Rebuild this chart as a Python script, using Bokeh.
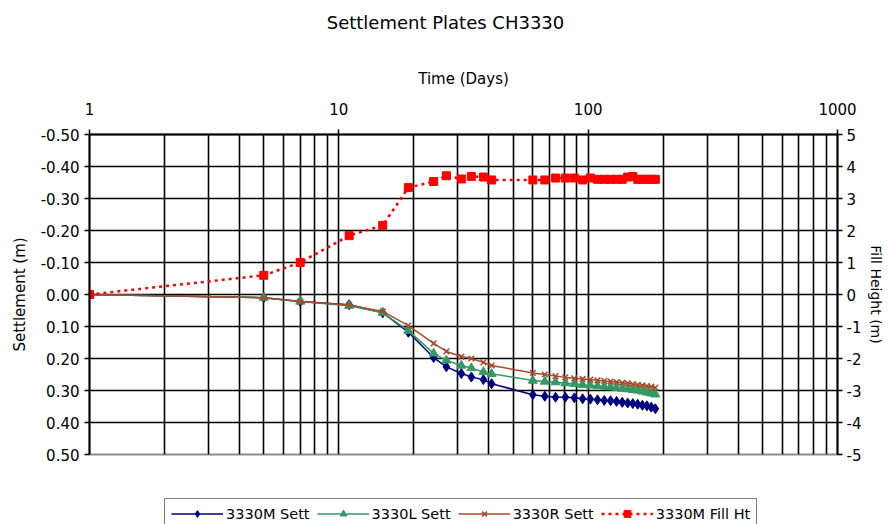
from bokeh.plotting import figure
from bokeh.layouts import column
from bokeh.models import (Range1d, LinearAxis, FixedTicker, PrintfTickFormatter,
                          Legend, LegendItem, Label)
from bokeh.embed import file_html
from bokeh.resources import INLINE

# Survey days since start of filling
days = [1, 5, 7, 11, 15, 19, 24, 27, 31, 34, 38, 41,
        60, 67, 74, 81, 88, 95, 102, 109, 116, 123, 130, 137,
        144, 151, 158, 165, 172, 179, 186]

# Settlement of the three plates (m, positive = downward)
sett_m = [0.000, 0.010, 0.022, 0.032, 0.057, 0.118, 0.197, 0.226, 0.247, 0.258, 0.266, 0.279,
          0.313, 0.318, 0.321, 0.321, 0.323, 0.326, 0.327, 0.329, 0.331, 0.332, 0.334, 0.337,
          0.339, 0.341, 0.343, 0.346, 0.348, 0.352, 0.357]
sett_l = [0.000, 0.010, 0.022, 0.035, 0.057, 0.113, 0.184, 0.206, 0.222, 0.230, 0.242, 0.248,
          0.269, 0.272, 0.274, 0.277, 0.279, 0.282, 0.284, 0.286, 0.288, 0.290, 0.292, 0.294,
          0.296, 0.298, 0.300, 0.303, 0.306, 0.309, 0.312]
sett_r = [0.000, 0.010, 0.022, 0.033, 0.053, 0.097, 0.153, 0.178, 0.194, 0.200, 0.212, 0.222,
          0.245, 0.250, 0.255, 0.259, 0.262, 0.264, 0.266, 0.268, 0.270, 0.272, 0.274, 0.276,
          0.278, 0.280, 0.282, 0.284, 0.286, 0.288, 0.291]

# Fill height over the middle plate (m)
fill_ht = [0.00, 0.60, 1.00, 1.84, 2.16, 3.34, 3.53, 3.71, 3.61, 3.69, 3.67, 3.58,
           3.58, 3.58, 3.64, 3.64, 3.64, 3.58, 3.64, 3.60, 3.60, 3.60, 3.60, 3.60,
           3.67, 3.69, 3.60, 3.60, 3.60, 3.60, 3.60]

chart_title = "Settlement Plates CH3330"
series_labels = ["3330M Sett", "3330L Sett", "3330R Sett", "3330M Fill Ht"]
series_values = [sett_m, sett_l, sett_r, fill_ht]

x_major = [1, 10, 100, 1000]
x_minor = [2, 3, 4, 5, 6, 7, 8, 9, 20, 30, 40, 50, 60, 70, 80, 90,
           200, 300, 400, 500, 600, 700, 800, 900]
sett_ticks = [-0.5, -0.4, -0.3, -0.2, -0.1, 0.0, 0.1, 0.2, 0.3, 0.4, 0.5]
fill_ticks = [-5, -4, -3, -2, -1, 0, 1, 2, 3, 4, 5]

FONT = "DejaVu Sans"

# Line / marker styles of the four series
STYLES = [
    dict(color="#000080", marker="diamond", size=10, dash="solid", width=1.5),
    dict(color="#339966", marker="triangle", size=9, dash="solid", width=1.5),
    dict(color="#A64B2A", marker="x", size=8, dash="solid", width=1.5),
    dict(color="#FF0000", marker="square", size=8, dash="3 4", width=2.5),
]

# Title strip across the top
title_fig = figure(width=889, height=40, x_range=Range1d(0, 1), y_range=Range1d(0, 1),
                   x_axis_location=None, y_axis_location=None,
                   output_backend="svg", toolbar_location=None,
                   min_border=0, outline_line_color=None)
title_fig.xgrid.visible = False
title_fig.ygrid.visible = False
title_fig.add_layout(Label(x=0.5, y=0.45, text=chart_title, x_offset=-18,
                           text_align="center", text_baseline="middle",
                           text_font=FONT, text_font_size="18px",
                           text_color="black"))

p = figure(frame_width=748, frame_height=320, x_axis_type="log",
           x_range=Range1d(1, 1000), y_range=Range1d(0.5, -0.5),
           x_axis_location="above",
           output_backend="svg", toolbar_location=None,
           min_border_left=89, min_border_right=52,
           min_border_top=94, min_border_bottom=12)
p.extra_y_ranges = {"fill": Range1d(-5, 5)}
p.title.visible = False

p.outline_line_color = "#8c8c8c"
p.outline_line_width = 2

# Top (time) axis
xa = p.xaxis[0]
xa.ticker = FixedTicker(ticks=x_major, minor_ticks=x_minor)
xa.formatter = PrintfTickFormatter(format="%d")
xa.axis_label = "Time (Days)"

# Left (settlement) axis
ya = p.yaxis[0]
ya.ticker = FixedTicker(ticks=sett_ticks)
ya.formatter = PrintfTickFormatter(format="%.2f")
ya.axis_label = "Settlement (m)"

# Right (fill height) axis
ra = LinearAxis(y_range_name="fill", ticker=FixedTicker(ticks=fill_ticks),
                formatter=PrintfTickFormatter(format="%d"),
                axis_label="Fill Height (m)")
p.add_layout(ra, "right")

for ax in (xa, ya, ra):
    ax.axis_line_color = "black"
    ax.axis_line_width = 2
    ax.major_tick_line_color = "black"
    ax.major_tick_line_width = 1.5
    ax.major_tick_in = 0
    ax.major_tick_out = 5
    ax.minor_tick_in = 0
    ax.minor_tick_out = 0
    ax.major_label_text_font = FONT
    ax.major_label_text_font_size = "15px"
    ax.major_label_text_color = "black"
    ax.axis_label_text_font = FONT
    ax.axis_label_text_font_size = "15px"
    ax.axis_label_text_font_style = "normal"
    ax.axis_label_text_color = "black"

xa.major_label_standoff = 15
xa.axis_label_standoff = 12
ya.axis_label_standoff = 9
ra.major_label_standoff = 4
ra.axis_label_standoff = 4
ra.axis_label_text_font_size = "14px"

p.xgrid.grid_line_color = "black"
p.xgrid.grid_line_width = 1.6
p.xgrid.minor_grid_line_color = "black"
p.xgrid.minor_grid_line_width = 1.6
p.ygrid.grid_line_color = "black"
p.ygrid.grid_line_width = 1.6


def add_series(fig, xs, ys, st, **kw):
    ln = fig.line(xs, ys, line_color=st["color"], line_width=st["width"],
                  line_dash=st["dash"], **kw)
    if st["marker"] == "x":
        pts = fig.scatter(xs, ys, marker="x", size=st["size"],
                          line_color=st["color"], line_width=1.5, **kw)
    else:
        pts = fig.scatter(xs, ys, marker=st["marker"], size=st["size"],
                          fill_color=st["color"], line_color=st["color"], **kw)
    return ln, pts


for vals, st in zip(series_values[:3], STYLES[:3]):
    add_series(p, days, vals, st)
add_series(p, days, fill_ht, STYLES[3], y_range_name="fill")

# Legend strip under the chart; its ranges keep the copied series out of view
leg_fig = figure(width=889, height=58, x_range=Range1d(-3, -2), y_range=Range1d(-3, -2),
                 x_axis_location=None, y_axis_location=None,
                 output_backend="svg", toolbar_location=None,
                 min_border=0, outline_line_color=None)
leg_fig.xgrid.visible = False
leg_fig.ygrid.visible = False

items = []
for label, vals, st in zip(series_labels, series_values, STYLES):
    ln, pts = add_series(leg_fig, days, vals, st)
    items.append(LegendItem(label=label, renderers=[ln, pts]))

legend = Legend(items=items, orientation="horizontal", location=(75, -5))
legend.label_text_font = FONT
legend.label_text_font_size = "14.5px"
legend.label_text_color = "black"
legend.glyph_width = 52
legend.glyph_height = 17
legend.label_standoff = 3
legend.spacing = 7
legend.padding = 6
legend.margin = 0
legend.border_line_color = "black"
legend.border_line_width = 1.5
leg_fig.add_layout(legend)

layout = column(title_fig, p, leg_fig, spacing=0)
open("out.html", "w").write(file_html(layout, INLINE))
